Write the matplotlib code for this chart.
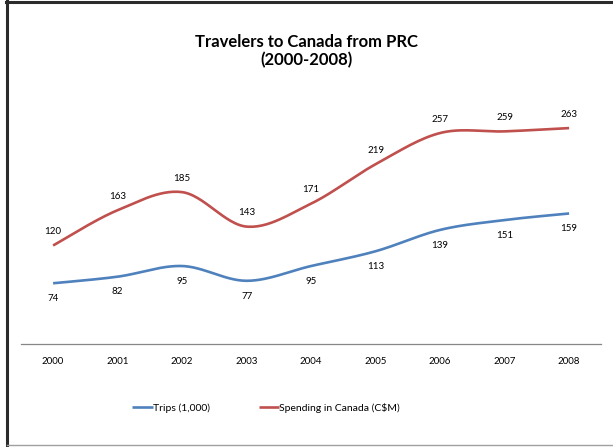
import numpy as np
import matplotlib.pyplot as plt
from matplotlib.lines import Line2D

years = ['2000', '2001', '2002', '2003', '2004', '2005', '2006', '2007', '2008']
trips = [74, 82, 95, 77, 95, 113, 139, 151, 159]
spending = [120, 163, 185, 143, 171, 219, 257, 259, 263]

blue = '#4F81BD'
red = '#C0504D'
plt.rcParams['font.family'] = ['Lato', 'DejaVu Sans']


def smooth(y, n=30):
    # Catmull-Rom style curve through the points, like Excel's smoothed line
    y = np.asarray(y, dtype=float)
    x = np.arange(len(y), dtype=float)
    px = np.concatenate([[x[0]], x, [x[-1]]])
    py = np.concatenate([[y[0]], y, [y[-1]]])
    xs, ys = [], []
    for i in range(1, len(px) - 2):
        p0, p1, p2, p3 = py[i - 1], py[i], py[i + 1], py[i + 2]
        q0, q1, q2, q3 = px[i - 1], px[i], px[i + 1], px[i + 2]
        c1y, c2y = p1 + (p2 - p0) / 6, p2 - (p3 - p1) / 6
        c1x, c2x = q1 + (q2 - q0) / 6, q2 - (q3 - q1) / 6
        t = np.linspace(0, 1, n)
        b = [(1 - t) ** 3, 3 * (1 - t) ** 2 * t, 3 * (1 - t) * t ** 2, t ** 3]
        xs.append(b[0] * q1 + b[1] * c1x + b[2] * c2x + b[3] * q2)
        ys.append(b[0] * p1 + b[1] * c1y + b[2] * c2y + b[3] * p2)
    return np.concatenate(xs), np.concatenate(ys)


fig = plt.figure(figsize=(6.13, 4.47), dpi=100)
ax = fig.add_axes([0.034, 0.2304, 0.947, 0.551])
x = np.arange(len(years))

sx, sy = smooth(trips)
ax.plot(sx, sy, color=blue, lw=1.9, label='Trips (1,000)', solid_capstyle='butt')
sx, sy = smooth(spending)
ax.plot(sx, sy, color=red, lw=1.9, label='Spending in Canada (C$M)', solid_capstyle='butt')

for i in range(len(years)):
    ax.annotate(str(spending[i]), (x[i], spending[i]), xytext=(0, 10),
                textcoords='offset points', ha='center', va='center', fontsize=7)
    ax.annotate(str(trips[i]), (x[i], trips[i]), xytext=(0, -11),
                textcoords='offset points', ha='center', va='center', fontsize=7)

ax.set_xlim(-0.5, len(years) - 0.5)
ax.set_ylim(0, 300)
ax.set_xticks(x)
ax.set_xticklabels(years, fontsize=7)
ax.set_yticks([])
ax.tick_params(axis='x', length=0, pad=9)
for s in ['top', 'right', 'left']:
    ax.spines[s].set_visible(False)
ax.spines['bottom'].set_color('#868686')
ax.spines['bottom'].set_linewidth(0.9)

fig.text(0.5, 0.906, 'Travelers to Canada from PRC', ha='center', va='center',
         fontsize=12, fontweight='bold')
fig.text(0.5, 0.866, '(2000-2008)', ha='center', va='center',
         fontsize=12, fontweight='bold')

fig.legend(loc='center', bbox_to_anchor=(0.434, 0.087), ncol=2, frameon=False,
           fontsize=7.5, handlelength=2.0, handletextpad=0.0, columnspacing=4.7)

# chart border
fig.add_artist(Line2D([0.0115, 0.0115], [0.0, 0.997], color='#2b2b2b', lw=2.2))
fig.add_artist(Line2D([0.01, 1.0], [0.995, 0.995], color='#2b2b2b', lw=2.2))
fig.add_artist(Line2D([0.0115, 1.0], [0.004, 0.004], color='#a0a0a0', lw=1.0))

fig.savefig('out.png', dpi=100)
